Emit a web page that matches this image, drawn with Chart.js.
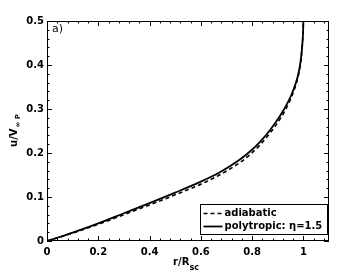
<!DOCTYPE html>
<html>
<head>
<meta charset="utf-8">
<script src="https://cdn.jsdelivr.net/npm/chart.js@4.4.1/dist/chart.umd.min.js"></script>
<style>
  html, body { margin: 0; padding: 0; background: #fff; }
  #wrap { width: 363px; height: 273px; }
</style>
</head>
<body>
<div id="wrap"><canvas id="grafik" width="363" height="273"></canvas></div>
<script>
// r/R_sc values
var rVals = [0, 0.1, 0.2, 0.3, 0.4, 0.5, 0.6, 0.676, 0.754, 0.793, 0.832, 0.871, 0.91, 0.943, 0.962, 0.978, 0.988, 0.995, 0.999, 1.0];
// u/V_inf P, polytropic eta=1.5 (solid)
var uPoly = [0, 0.019, 0.040, 0.063, 0.086, 0.110, 0.135, 0.157, 0.186, 0.204, 0.226, 0.253, 0.285, 0.319, 0.345, 0.374, 0.403, 0.440, 0.478, 0.500];
// u/V_inf P, adiabatic (dashed)
var uAdia = [0, 0.018, 0.038, 0.060, 0.082, 0.105, 0.129, 0.151, 0.179, 0.197, 0.219, 0.246, 0.278, 0.313, 0.340, 0.370, 0.400, 0.438, 0.477, 0.500];
var seriesNames = ['adiabatic', 'polytropic: \u03b7=1.5'];
var xTicks = [0, 0.2, 0.4, 0.6, 0.8, 1];
var yTicks = [0, 0.1, 0.2, 0.3, 0.4, 0.5];

var BOLD = 'bold 10px "DejaVu Sans"';

function toPoints(xs, ys){
    return xs.map(function(x, i){ return {x: x, y: ys[i]}; });
}

// frame, inward ticks, axis titles, panel label and legend
var decor = {
    id: 'decor',
    afterDraw: function(chart){
        var ctx = chart.ctx, a = chart.chartArea;
        var sx = chart.scales.x, sy = chart.scales.y;
        ctx.save();
        ctx.strokeStyle = '#000';
        ctx.lineWidth = 1;
        ctx.strokeRect(Math.round(a.left) + 0.5, Math.round(a.top) + 0.5,
                       Math.round(a.right - a.left) - 1, Math.round(a.bottom - a.top) - 1);

        ctx.beginPath();
        // x ticks, major every 0.2, minor every 0.04
        for (var i = 0; i <= 27; i++){
            var v = i * 0.04;
            var px = Math.round(sx.getPixelForValue(v)) + 0.5;
            var len = (i % 5 == 0) ? 5 : 2.5;
            ctx.moveTo(px, a.bottom); ctx.lineTo(px, a.bottom - len);
            ctx.moveTo(px, a.top); ctx.lineTo(px, a.top + len);
        }
        // y ticks, major every 0.1, minor every 0.02
        for (var j = 0; j <= 25; j++){
            var w = j * 0.02;
            var py = Math.round(sy.getPixelForValue(w)) + 0.5;
            var l2 = (j % 5 == 0) ? 5 : 2.5;
            ctx.moveTo(a.left, py); ctx.lineTo(a.left + l2, py);
            ctx.moveTo(a.right, py); ctx.lineTo(a.right - l2, py);
        }
        ctx.stroke();

        // panel label
        ctx.fillStyle = '#000';
        ctx.font = '11px "DejaVu Sans"';
        ctx.textAlign = 'left';
        ctx.textBaseline = 'alphabetic';
        ctx.fillText('a)', a.left + 5, a.top + 11);

        // x title r/R_sc
        ctx.font = BOLD;
        var t1 = 'r/R';
        var w1 = ctx.measureText(t1).width;
        ctx.font = 'bold 8px "DejaVu Sans"';
        var w2 = ctx.measureText('sc').width;
        var cx = (a.left + a.right) / 2 - 2;
        var x0 = cx - (w1 + w2) / 2;
        ctx.font = BOLD;
        ctx.fillText(t1, x0, 265);
        ctx.font = 'bold 8px "DejaVu Sans"';
        ctx.fillText('sc', x0 + w1, 270);

        // y title u/V_inf P (rotated)
        ctx.save();
        ctx.translate(17, (a.top + a.bottom) / 2);
        ctx.rotate(-Math.PI / 2);
        ctx.font = BOLD;
        var m1 = ctx.measureText('u/V').width;
        ctx.font = 'bold 7px "DejaVu Sans"';
        var m2 = ctx.measureText('\u221e P').width;
        var s0 = -(m1 + m2) / 2;
        ctx.font = BOLD;
        ctx.fillText('u/V', s0, 0);
        ctx.font = 'bold 7px "DejaVu Sans"';
        ctx.fillText('\u221e P', s0 + m1 + 1, 3);
        ctx.restore();

        // legend box in the lower right corner
        var bx = 200.5, by = 204.5, bw = 127, bh = 30;
        ctx.fillStyle = '#fff';
        ctx.fillRect(bx, by, bw, bh);
        ctx.strokeRect(bx, by, bw, bh);
        var ds = chart.data.datasets;
        for (var k = 0; k < ds.length; k++){
            var yy = by + 9 + k * 13;
            ctx.beginPath();
            ctx.lineWidth = ds[k].borderWidth;
            ctx.setLineDash(ds[k].borderDash || []);
            ctx.moveTo(bx + 3, yy); ctx.lineTo(bx + 22, yy);
            ctx.stroke();
            ctx.setLineDash([]);
            ctx.fillStyle = '#000';
            ctx.font = BOLD;
            ctx.textBaseline = 'middle';
            ctx.fillText(ds[k].label, bx + 24, yy);
        }
        ctx.restore();
    }
};

var ctx = document.getElementById('grafik');
var grafik = new Chart(ctx, {
    type: 'line',
    data: {
        datasets: [{
            label: seriesNames[0],
            data: toPoints(rVals, uAdia),
            borderColor: '#000',
            borderWidth: 1.6,
            borderDash: [4, 3],
            pointRadius: 0,
            fill: false,
            cubicInterpolationMode: 'monotone',
            order: 1
        }, {
            label: seriesNames[1],
            data: toPoints(rVals, uPoly),
            borderColor: '#000',
            borderWidth: 1.8,
            pointRadius: 0,
            fill: false,
            cubicInterpolationMode: 'monotone',
            order: 0
        }]
    },
    options: {
        responsive: false,
        animation: false,
        layout: { padding: { left: 0, top: 21, right: 34, bottom: 0 } },
        plugins: { legend: { display: false }, tooltip: { enabled: false } },
        scales: {
            x: {
                type: 'linear',
                min: 0,
                max: 1.1,
                afterBuildTicks: function(scale){
                    scale.ticks = xTicks.map(function(v){ return {value: v}; });
                },
                afterFit: function(scale){ scale.height = 32; },
                grid: { display: false, drawTicks: false },
                border: { display: false },
                ticks: {
                    color: '#000',
                    padding: 5,
                    maxRotation: 0,
                    font: { family: 'DejaVu Sans', weight: 'bold', size: 10 },
                    callback: function(v){ return String(Math.round(v * 10) / 10); }
                }
            },
            y: {
                type: 'linear',
                min: 0,
                max: 0.5,
                afterBuildTicks: function(scale){
                    scale.ticks = yTicks.map(function(v){ return {value: v}; });
                },
                afterFit: function(scale){ scale.width = 47; },
                grid: { display: false, drawTicks: false },
                border: { display: false },
                ticks: {
                    color: '#000',
                    padding: 3,
                    font: { family: 'DejaVu Sans', weight: 'bold', size: 10 },
                    callback: function(v){ return String(Math.round(v * 10) / 10); }
                }
            }
        }
    },
    plugins: [decor]
});
</script>
</body>
</html>
